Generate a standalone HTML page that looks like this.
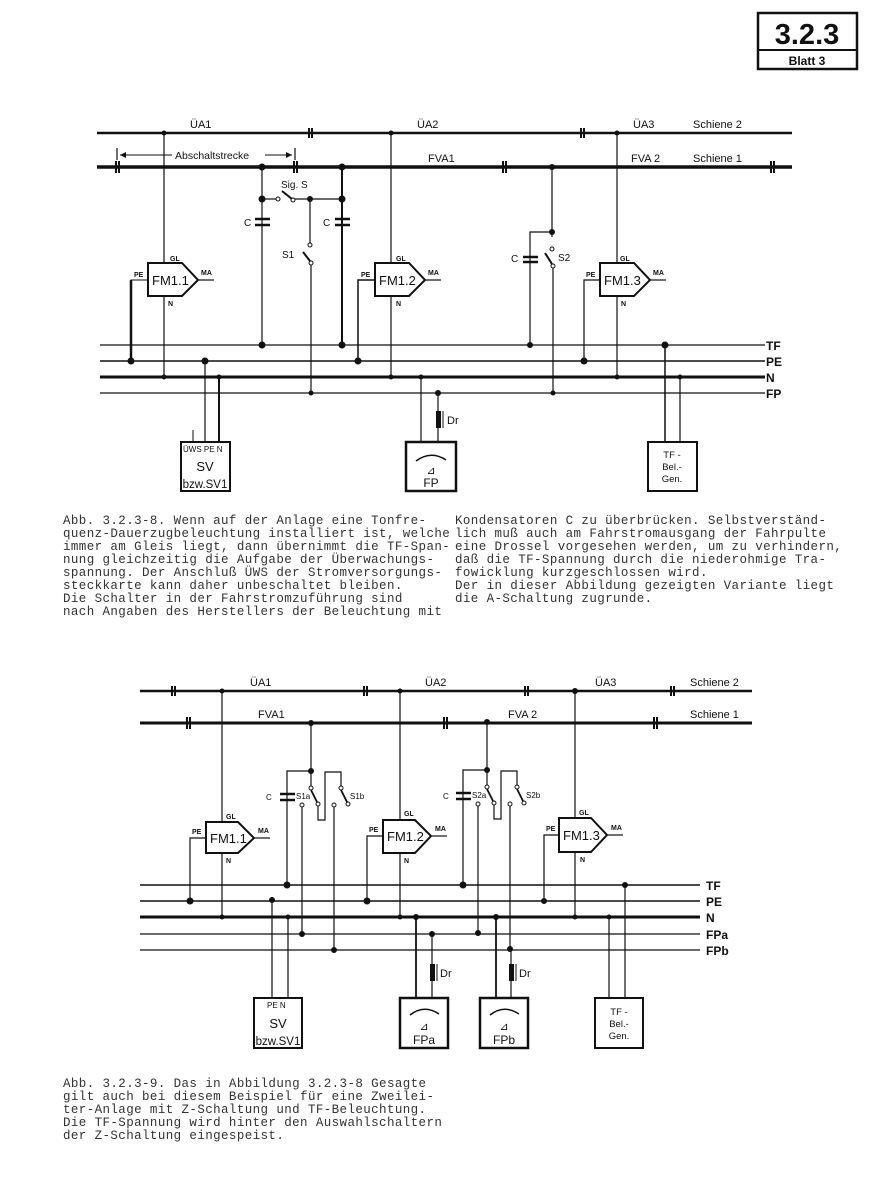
<!DOCTYPE html>
<html><head><meta charset="utf-8"><style>
html,body{margin:0;padding:0;background:#fff;}
svg{display:block;}
.t{font-family:"Liberation Mono",monospace;font-size:12.5px;fill:#333;letter-spacing:0.4px;}
.l{font-family:"Liberation Sans",sans-serif;fill:#111;}
</style></head><body>
<svg width="890" height="1200" viewBox="0 0 890 1200" xmlns="http://www.w3.org/2000/svg">
<rect width="890" height="1200" fill="#fff"/>
<rect x="758" y="13" width="99" height="56" fill="none" stroke="#111" stroke-width="2.5"/>
<line x1="758" y1="50" x2="857" y2="50" stroke="#111" stroke-width="2"/>
<text x="807" y="44" text-anchor="middle" class="l" font-size="29" font-weight="bold">3.2.3</text>
<text x="807" y="65" text-anchor="middle" class="l" font-size="12" font-weight="bold">Blatt 3</text>

<g stroke="#111" fill="none">
<line x1="97" y1="133" x2="792" y2="133" stroke-width="2.5"/>
<line x1="97" y1="167" x2="792" y2="167" stroke-width="3.5"/>
<g stroke-width="2"><line x1="309" y1="128" x2="309" y2="138"/><line x1="312" y1="128" x2="312" y2="138"/>
<line x1="581" y1="128" x2="581" y2="138"/><line x1="584" y1="128" x2="584" y2="138"/>
<line x1="116" y1="161" x2="116" y2="173"/><line x1="119" y1="161" x2="119" y2="173"/>
<line x1="294" y1="161" x2="294" y2="173"/><line x1="297" y1="161" x2="297" y2="173"/>
<line x1="503" y1="161" x2="503" y2="173"/><line x1="506" y1="161" x2="506" y2="173"/>
<line x1="771" y1="161" x2="771" y2="173"/><line x1="774" y1="161" x2="774" y2="173"/></g>
<line x1="117" y1="148" x2="117" y2="160" stroke-width="1.2"/><line x1="295" y1="148" x2="295" y2="160" stroke-width="1.2"/>
<line x1="120" y1="155" x2="172" y2="155" stroke-width="1"/><line x1="265" y1="155" x2="292" y2="155" stroke-width="1"/>
<line x1="100" y1="345" x2="765" y2="345" stroke-width="1.2"/>
<line x1="100" y1="361" x2="765" y2="361" stroke-width="1.5"/>
<line x1="100" y1="377" x2="765" y2="377" stroke-width="3"/>
<line x1="100" y1="393" x2="765" y2="393" stroke-width="1.2"/>
<line x1="164" y1="133" x2="164" y2="377" stroke-width="1.2"/>
<path d="M148 263 H182 L198 280 L182 296 H148 Z" stroke-width="2" fill="#fff"/>
<line x1="198" y1="280" x2="214" y2="280" stroke-width="1.2"/>
<path d="M148 280 H131 V361" stroke-width="1"/><line x1="131" y1="280" x2="131" y2="361" stroke-width="2.5"/>
<rect x="181" y="442" width="49" height="49" stroke-width="2"/>
<line x1="205" y1="361" x2="205" y2="442" stroke-width="1.2"/><line x1="219" y1="377" x2="219" y2="442" stroke-width="2"/>
<line x1="193" y1="430" x2="193" y2="442" stroke-width="1"/>
<line x1="262" y1="167" x2="262" y2="345" stroke-width="1.2"/>
<line x1="342" y1="167" x2="342" y2="345" stroke-width="2"/>
<line x1="255" y1="219" x2="270" y2="219" stroke-width="2.5"/><line x1="255" y1="225" x2="270" y2="225" stroke-width="2.5"/>
<line x1="335" y1="219" x2="350" y2="219" stroke-width="2.5"/><line x1="335" y1="225" x2="350" y2="225" stroke-width="2.5"/>
<line x1="262" y1="199" x2="276" y2="199" stroke-width="1.2"/>
<circle cx="278" cy="199" r="2" stroke-width="1"/><circle cx="293" cy="200" r="2" stroke-width="1"/>
<line x1="282" y1="191" x2="292" y2="199" stroke-width="2"/>
<line x1="295" y1="199" x2="342" y2="199" stroke-width="1.2"/>
<line x1="310" y1="199" x2="310" y2="243" stroke-width="1.2"/>
<circle cx="310" cy="245" r="2" stroke-width="1"/><circle cx="311" cy="263" r="2" stroke-width="1"/>
<line x1="303" y1="252" x2="310" y2="261" stroke-width="2"/>
<line x1="311" y1="265" x2="311" y2="393" stroke-width="1.2"/>
<line x1="391" y1="133" x2="391" y2="377" stroke-width="1.2"/>
<path d="M375 263 H409 L425 280 L409 296 H375 Z" stroke-width="2" fill="#fff"/>
<line x1="425" y1="280" x2="441" y2="280" stroke-width="1.2"/>
<path d="M375 280 H358 V361" stroke-width="1.5"/>
<rect x="406" y="442" width="50" height="49" stroke-width="2.5"/>
<line x1="421" y1="377" x2="421" y2="442" stroke-width="1.2"/>
<line x1="438" y1="393" x2="438" y2="442" stroke-width="1.2"/>
<rect x="436" y="411" width="5" height="17" fill="#111" stroke="none"/><line x1="443" y1="411" x2="443" y2="428" stroke-width="1"/>
<path d="M416 461 Q431 450 446 460" stroke-width="1.5"/>
<line x1="552" y1="167" x2="552" y2="237" stroke-width="1.2"/>
<path d="M552 232 H530 V345" stroke-width="1.2"/>
<line x1="523" y1="257" x2="538" y2="257" stroke-width="2.5"/><line x1="523" y1="262" x2="538" y2="262" stroke-width="2.5"/>
<circle cx="552" cy="249" r="2" stroke-width="1"/><circle cx="553" cy="266" r="2" stroke-width="1"/>
<line x1="545" y1="253" x2="552" y2="264" stroke-width="2"/>
<line x1="553" y1="268" x2="553" y2="393" stroke-width="1.2"/>
<line x1="617" y1="133" x2="617" y2="377" stroke-width="1.2"/>
<path d="M600 263 H634 L650 280 L634 296 H600 Z" stroke-width="2" fill="#fff"/>
<line x1="650" y1="280" x2="666" y2="280" stroke-width="1.2"/>
<path d="M600 280 H584 V361" stroke-width="1.2"/>
<rect x="648" y="442" width="49" height="49" stroke-width="2"/>
<line x1="665" y1="345" x2="665" y2="442" stroke-width="1.5"/><line x1="680" y1="377" x2="680" y2="442" stroke-width="1.2"/>

<line x1="140" y1="691" x2="752" y2="691" stroke-width="2.5"/>
<line x1="140" y1="723" x2="752" y2="723" stroke-width="3"/>
<g stroke-width="2"><line x1="172" y1="686" x2="172" y2="696"/><line x1="175" y1="686" x2="175" y2="696"/>
<line x1="364" y1="686" x2="364" y2="696"/><line x1="367" y1="686" x2="367" y2="696"/>
<line x1="525" y1="686" x2="525" y2="696"/><line x1="528" y1="686" x2="528" y2="696"/>
<line x1="671" y1="686" x2="671" y2="696"/><line x1="674" y1="686" x2="674" y2="696"/>
<line x1="187" y1="717" x2="187" y2="729"/><line x1="190" y1="717" x2="190" y2="729"/>
<line x1="444" y1="717" x2="444" y2="729"/><line x1="447" y1="717" x2="447" y2="729"/>
<line x1="654" y1="717" x2="654" y2="729"/><line x1="657" y1="717" x2="657" y2="729"/></g>
<line x1="140" y1="885" x2="700" y2="885" stroke-width="1.5"/>
<line x1="140" y1="901" x2="700" y2="901" stroke-width="1.5"/>
<line x1="140" y1="917" x2="700" y2="917" stroke-width="3"/>
<line x1="140" y1="934" x2="700" y2="934" stroke-width="1.2"/>
<line x1="140" y1="950" x2="700" y2="950" stroke-width="1.2"/>
<line x1="222" y1="691" x2="222" y2="917" stroke-width="1.2"/>
<path d="M206 822 H238 L254 838 L238 853 H206 Z" stroke-width="2" fill="#fff"/>
<line x1="254" y1="838" x2="270" y2="838" stroke-width="1.2"/>
<path d="M206 838 H190 V901" stroke-width="1.2"/>
<rect x="254" y="998" width="48" height="50" stroke-width="2"/>
<line x1="272" y1="901" x2="272" y2="998" stroke-width="1.2"/><line x1="288" y1="917" x2="288" y2="998" stroke-width="1.2"/>
<g id="sg">
<line x1="311" y1="723" x2="311" y2="786" stroke-width="1.2"/>
<path d="M311 771 H287 V885" stroke-width="1.2"/>
<line x1="280" y1="794" x2="295" y2="794" stroke-width="2.5"/><line x1="280" y1="800" x2="295" y2="800" stroke-width="2.5"/>
<circle cx="311" cy="788" r="2" stroke-width="1"/><circle cx="318" cy="804" r="2" stroke-width="1"/>
<line x1="311" y1="790" x2="317" y2="802" stroke-width="1.8"/>
<circle cx="302" cy="805" r="2" stroke-width="1"/><line x1="302" y1="807" x2="302" y2="934" stroke-width="1.2"/>
<path d="M318 806 V820 H325 V772 H341 V786" stroke-width="1.2"/>
<circle cx="341" cy="788" r="2" stroke-width="1"/><circle cx="348" cy="804" r="2" stroke-width="1"/>
<line x1="341" y1="790" x2="347" y2="802" stroke-width="1.8"/>
<circle cx="334" cy="805" r="2" stroke-width="1"/><line x1="334" y1="807" x2="334" y2="950" stroke-width="1.2"/>
</g>
<use href="#sg" x="176" y="-1"/>
<line x1="400" y1="691" x2="400" y2="917" stroke-width="1.2"/>
<path d="M383 820 H415 L431 836 L415 853 H383 Z" stroke-width="2" fill="#fff"/>
<line x1="431" y1="836" x2="447" y2="836" stroke-width="1.2"/>
<path d="M383 836 H367 V901" stroke-width="1.2"/>
<rect x="400" y="998" width="48" height="50" stroke-width="2.5"/>
<line x1="416" y1="917" x2="416" y2="998" stroke-width="1.8"/>
<line x1="432" y1="934" x2="432" y2="998" stroke-width="1.2"/>
<rect x="430" y="964" width="5" height="17" fill="#111" stroke="none"/><line x1="437" y1="964" x2="437" y2="981" stroke-width="1"/>
<path d="M410 1015 Q424 1004 439 1014" stroke-width="1.5"/>
<rect x="480" y="998" width="48" height="50" stroke-width="2.5"/>
<line x1="496" y1="917" x2="496" y2="998" stroke-width="1.8"/>
<line x1="511" y1="950" x2="511" y2="998" stroke-width="1.2"/>
<rect x="509" y="964" width="5" height="17" fill="#111" stroke="none"/><line x1="516" y1="964" x2="516" y2="981" stroke-width="1"/>
<path d="M490 1015 Q504 1004 519 1014" stroke-width="1.5"/>
<line x1="575" y1="691" x2="575" y2="917" stroke-width="1.2"/>
<path d="M559 818 H591 L607 835 L591 852 H559 Z" stroke-width="2" fill="#fff"/>
<line x1="607" y1="835" x2="623" y2="835" stroke-width="1.2"/>
<path d="M559 835 H544 V901" stroke-width="1.2"/>
<rect x="595" y="998" width="48" height="50" stroke-width="2"/>
<line x1="609" y1="917" x2="609" y2="998" stroke-width="1.2"/><line x1="625" y1="885" x2="625" y2="998" stroke-width="1.2"/>
</g>

<g fill="#111">
<circle cx="164" cy="133" r="2.5"/><circle cx="391" cy="133" r="2.5"/><circle cx="617" cy="133" r="2.5"/>
<circle cx="262" cy="167" r="3.5"/><circle cx="342" cy="167" r="3.5"/><circle cx="552" cy="167" r="3"/>
<circle cx="262" cy="199" r="3.5"/><circle cx="310" cy="199" r="3"/><circle cx="342" cy="199" r="3.5"/>
<circle cx="552" cy="232" r="3"/>
<circle cx="262" cy="345" r="3.5"/><circle cx="342" cy="345" r="3.5"/><circle cx="530" cy="345" r="3"/><circle cx="665" cy="345" r="3.5"/>
<circle cx="131" cy="361" r="3.5"/><circle cx="205" cy="361" r="3.5"/><circle cx="358" cy="361" r="3.5"/><circle cx="584" cy="361" r="3.5"/>
<circle cx="164" cy="377" r="2.5"/><circle cx="219" cy="377" r="2.5"/><circle cx="391" cy="377" r="2.5"/><circle cx="421" cy="377" r="2.5"/><circle cx="617" cy="377" r="2.5"/><circle cx="680" cy="377" r="2.5"/>
<circle cx="311" cy="393" r="2.5"/><circle cx="438" cy="393" r="3"/><circle cx="553" cy="393" r="2.5"/>
<circle cx="222" cy="691" r="2.5"/><circle cx="400" cy="691" r="2.5"/><circle cx="575" cy="691" r="3"/>
<circle cx="311" cy="723" r="3"/><circle cx="487" cy="722" r="3"/>
<circle cx="311" cy="771" r="3"/><circle cx="487" cy="770" r="3"/>
<circle cx="287" cy="885" r="3.5"/><circle cx="463" cy="885" r="3.5"/><circle cx="625" cy="885" r="3"/>
<circle cx="190" cy="901" r="3.5"/><circle cx="272" cy="900" r="3"/><circle cx="367" cy="901" r="3.5"/><circle cx="544" cy="901" r="3"/>
<circle cx="222" cy="917" r="2.5"/><circle cx="288" cy="917" r="2.5"/><circle cx="400" cy="917" r="2.5"/><circle cx="416" cy="917" r="3"/><circle cx="496" cy="917" r="3"/><circle cx="575" cy="917" r="2.5"/><circle cx="609" cy="917" r="2.5"/>
<circle cx="302" cy="934" r="3"/><circle cx="432" cy="934" r="3"/><circle cx="478" cy="933" r="3"/>
<circle cx="334" cy="950" r="3"/><circle cx="510" cy="949" r="3"/>
<path d="M120 155 l6 -3 v6 z"/><path d="M292 155 l-6 -3 v6 z"/>
</g>

<g class="l" font-size="11">
<text x="190" y="128">ÜA1</text><text x="417" y="128">ÜA2</text><text x="633" y="128">ÜA3</text><text x="693" y="128">Schiene 2</text>
<text x="175" y="159" font-size="10.5">Abschaltstrecke</text>
<text x="428" y="162">FVA1</text><text x="631" y="162">FVA 2</text><text x="693" y="162">Schiene 1</text>
<text x="281" y="188" font-size="10">Sig. S</text>
<text x="244" y="226" font-size="10">C</text><text x="323" y="226" font-size="10">C</text>
<text x="282" y="258" font-size="10">S1</text>
<text x="511" y="262" font-size="10">C</text><text x="558" y="261" font-size="10">S2</text>
<text x="152" y="285" font-size="13">FM1.1</text><text x="379" y="285" font-size="13">FM1.2</text><text x="604" y="285" font-size="13">FM1.3</text>
<g font-size="7" font-weight="bold">
<text x="170" y="261">GL</text><text x="201" y="275">MA</text><text x="134" y="277">PE</text><text x="168" y="306">N</text>
<text x="396" y="261">GL</text><text x="428" y="275">MA</text><text x="361" y="277">PE</text><text x="396" y="306">N</text>
<text x="620" y="261">GL</text><text x="653" y="275">MA</text><text x="586" y="277">PE</text><text x="621" y="306">N</text>
</g>
<g font-size="12" font-weight="bold"><text x="766" y="350">TF</text><text x="766" y="366">PE</text><text x="766" y="382">N</text><text x="766" y="398">FP</text></g>
<text x="183" y="452" font-size="8">ÜWS PE N</text>
<text x="205" y="471" font-size="13" text-anchor="middle">SV</text>
<text x="205" y="488" font-size="11.5" text-anchor="middle">bzw.SV1</text>
<text x="447" y="424" font-size="11">Dr</text>
<text x="431" y="474" font-size="11" text-anchor="middle">⊿</text>
<text x="431" y="487" font-size="12" text-anchor="middle">FP</text>
<text x="672" y="458" font-size="9.5" text-anchor="middle">TF -</text>
<text x="672" y="470" font-size="9.5" text-anchor="middle">Bel.-</text>
<text x="672" y="482" font-size="9.5" text-anchor="middle">Gen.</text>
</g>

<g class="l" font-size="11">
<text x="250" y="686">ÜA1</text><text x="425" y="686">ÜA2</text><text x="595" y="686">ÜA3</text><text x="690" y="686">Schiene 2</text>
<text x="258" y="718">FVA1</text><text x="508" y="718">FVA 2</text><text x="690" y="718">Schiene 1</text>
<g font-size="8"><text x="266" y="800">C</text><text x="296" y="799">S1a</text><text x="350" y="799">S1b</text>
<text x="443" y="799">C</text><text x="472" y="798">S2a</text><text x="526" y="798">S2b</text></g>
<text x="210" y="843" font-size="13">FM1.1</text><text x="387" y="841" font-size="13">FM1.2</text><text x="563" y="840" font-size="13">FM1.3</text>
<g font-size="7" font-weight="bold">
<text x="226" y="819">GL</text><text x="258" y="833">MA</text><text x="192" y="834">PE</text><text x="226" y="863">N</text>
<text x="404" y="816">GL</text><text x="435" y="831">MA</text><text x="369" y="832">PE</text><text x="404" y="863">N</text>
<text x="579" y="815">GL</text><text x="611" y="830">MA</text><text x="546" y="831">PE</text><text x="580" y="862">N</text>
</g>
<g font-size="12" font-weight="bold"><text x="706" y="890">TF</text><text x="706" y="906">PE</text><text x="706" y="922">N</text><text x="706" y="939">FPa</text><text x="706" y="955">FPb</text></g>
<text x="267" y="1008" font-size="8">PE  N</text>
<text x="278" y="1028" font-size="13" text-anchor="middle">SV</text>
<text x="278" y="1045" font-size="11.5" text-anchor="middle">bzw.SV1</text>
<text x="440" y="977" font-size="11">Dr</text><text x="519" y="977" font-size="11">Dr</text>
<text x="424" y="1030" font-size="11" text-anchor="middle">⊿</text><text x="424" y="1044" font-size="12" text-anchor="middle">FPa</text>
<text x="504" y="1030" font-size="11" text-anchor="middle">⊿</text><text x="504" y="1044" font-size="12" text-anchor="middle">FPb</text>
<text x="619" y="1015" font-size="9.5" text-anchor="middle">TF -</text>
<text x="619" y="1027" font-size="9.5" text-anchor="middle">Bel.-</text>
<text x="619" y="1039" font-size="9.5" text-anchor="middle">Gen.</text>
</g>

<g class="t">
<text x="63" y="524">Abb. 3.2.3-8. Wenn auf der Anlage eine Tonfre-</text>
<text x="63" y="537">quenz-Dauerzugbeleuchtung installiert ist, welche</text>
<text x="63" y="550">immer am Gleis liegt, dann übernimmt die TF-Span-</text>
<text x="63" y="563">nung gleichzeitig die Aufgabe der Überwachungs-</text>
<text x="63" y="576">spannung. Der Anschluß ÜWS der Stromversorgungs-</text>
<text x="63" y="589">steckkarte kann daher unbeschaltet bleiben.</text>
<text x="63" y="602">Die Schalter in der Fahrstromzuführung sind</text>
<text x="63" y="615">nach Angaben des Herstellers der Beleuchtung mit</text>
<text x="455" y="524">Kondensatoren C zu überbrücken. Selbstverständ-</text>
<text x="455" y="537">lich muß auch am Fahrstromausgang der Fahrpulte</text>
<text x="455" y="550">eine Drossel vorgesehen werden, um zu verhindern,</text>
<text x="455" y="563">daß die TF-Spannung durch die niederohmige Tra-</text>
<text x="455" y="576">fowicklung kurzgeschlossen wird.</text>
<text x="455" y="589">Der in dieser Abbildung gezeigten Variante liegt</text>
<text x="455" y="602">die A-Schaltung zugrunde.</text>
<text x="63" y="1087">Abb. 3.2.3-9. Das in Abbildung 3.2.3-8 Gesagte</text>
<text x="63" y="1100">gilt auch bei diesem Beispiel für eine Zweilei-</text>
<text x="63" y="1113">ter-Anlage mit Z-Schaltung und TF-Beleuchtung.</text>
<text x="63" y="1126">Die TF-Spannung wird hinter den Auswahlschaltern</text>
<text x="63" y="1139">der Z-Schaltung eingespeist.</text>
</g>
</svg>
</body></html>
